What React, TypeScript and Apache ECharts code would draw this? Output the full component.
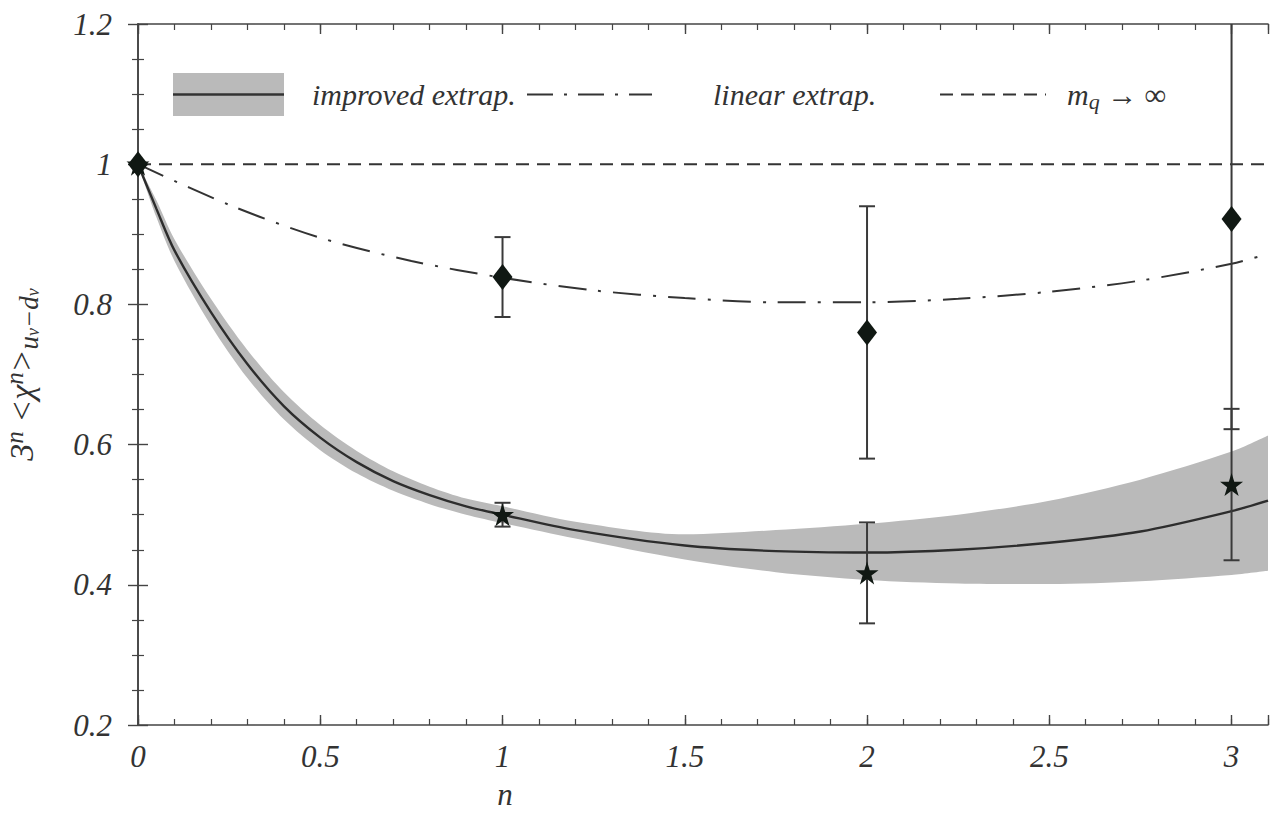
import React, { useEffect, useRef } from "react";
import * as echarts from "echarts";

// ---------- data ----------
const xMin = 0;
const xMax = 3.1;
const yMin = 0.2;
const yMax = 1.2;

// improved extrapolation (solid curve) and its uncertainty band
const improvedN = [0, 0.05, 0.1, 0.2, 0.3, 0.4, 0.5, 0.6, 0.7, 0.8, 0.9, 1.0, 1.2, 1.5, 1.75, 2.0, 2.25, 2.5, 2.75, 3.0, 3.1];
const improvedV = [1.0, 0.937, 0.877, 0.789, 0.715, 0.655, 0.61, 0.575, 0.548, 0.528, 0.512, 0.5, 0.478, 0.456, 0.448, 0.446, 0.45, 0.46, 0.476, 0.505, 0.52];
const bandLower = [1.0, 0.925, 0.862, 0.77, 0.695, 0.636, 0.592, 0.559, 0.534, 0.515, 0.5, 0.488, 0.466, 0.436, 0.418, 0.407, 0.402, 0.401, 0.405, 0.414, 0.42];
const bandUpper = [1.0, 0.949, 0.893, 0.808, 0.735, 0.675, 0.628, 0.591, 0.562, 0.54, 0.523, 0.512, 0.49, 0.472, 0.478, 0.487, 0.5, 0.52, 0.55, 0.59, 0.613];

// linear extrapolation (dash-dot curve)
const linearN = [0, 0.25, 0.5, 0.75, 1.0, 1.25, 1.5, 1.75, 2.0, 2.25, 2.5, 2.75, 3.0, 3.1];
const linearV = [1.0, 0.942, 0.895, 0.862, 0.838, 0.82, 0.809, 0.803, 0.803, 0.808, 0.818, 0.834, 0.858, 0.872];

// m_q -> infinity (dashed)
const heavyQuarkN = [0, 3.1];
const heavyQuarkV = [1, 1];

// lattice points: diamonds (linear extrap.), stars (improved extrap.)
const diamondN = [0, 1, 2, 3];
const diamondV = [1.0, 0.839, 0.76, 0.922];
const diamondErr = [0, 0.057, 0.18, 0.3];

const starN = [0, 1, 2, 3];
const starV = [1.0, 0.5, 0.417, 0.543];
const starErr = [0, 0.017, 0.072, 0.108];

const legendLabels = ["improved extrap.", "linear extrap."];
const xTitle = "n";

// ---------- styles ----------
const FONT = "Liberation Serif";
const INK = "#333333";
const MARK = "#101813";
const BAND = "#bababa";
const STAR_PATH =
  "path://M0,-10L2.25,-3.09L9.51,-3.09L3.63,1.18L5.88,8.09L0,3.82L-5.88,8.09L-3.63,1.18L-9.51,-3.09L-2.25,-3.09Z";

const zip = (a: number[], b: number[]) => a.map((v, i) => [v, b[i]]);

function errorBarSeries(ns: number[], vs: number[], es: number[]) {
  return {
    type: "custom",
    clip: true,
    z: 6,
    data: ns.map((n, i) => [n, vs[i] - es[i], vs[i] + es[i], es[i]]),
    renderItem: (params: any, api: any) => {
      const err = api.value(3);
      if (!err) return null;
      const lo = api.coord([api.value(0), api.value(1)]);
      const hi = api.coord([api.value(0), api.value(2)]);
      const w = 8;
      const st = { stroke: "#3a3a3a", lineWidth: 2 };
      return {
        type: "group",
        children: [
          { type: "line", shape: { x1: lo[0], y1: lo[1], x2: hi[0], y2: hi[1] }, style: st },
          { type: "line", shape: { x1: lo[0] - w, y1: lo[1], x2: lo[0] + w, y2: lo[1] }, style: st },
          { type: "line", shape: { x1: hi[0] - w, y1: hi[1], x2: hi[0] + w, y2: hi[1] }, style: st },
        ],
      };
    },
  };
}

export default function App() {
  const ref = useRef<HTMLDivElement>(null);

  useEffect(() => {
    if (!ref.current) return;
    const chart = echarts.init(ref.current, null, { renderer: "svg" });

    const labelStyle = {
      fontFamily: FONT,
      fontStyle: "italic",
      fontSize: 31,
      color: INK,
    };
    const axisLine = { show: true, lineStyle: { color: "#444", width: 1.6 } };

    const majorX = (position: string, showLabel: boolean) => ({
      type: "value",
      position,
      min: xMin,
      max: xMax,
      interval: 0.5,
      z: 5,
      axisLine,
      axisTick: { show: true, inside: true, length: 10, lineStyle: { color: "#444", width: 1.4 } },
      axisLabel: {
        show: showLabel,
        margin: 16,
        ...labelStyle,
        formatter: (v: number) => (Math.abs(v * 2 - Math.round(v * 2)) < 1e-6 ? String(v) : ""),
      },
      splitLine: { show: false },
    });
    const minorX = (position: string) => ({
      type: "value",
      position,
      min: xMin,
      max: xMax,
      interval: 0.1,
      z: 5,
      axisLine: { show: false },
      axisTick: { show: true, inside: true, length: 6, lineStyle: { color: "#444", width: 1.2 } },
      axisLabel: { show: false },
      splitLine: { show: false },
    });
    const yAx = (position: string, showLabel: boolean) => ({
      type: "value",
      position,
      min: yMin,
      max: yMax,
      interval: 0.2,
      z: 5,
      axisLine,
      axisTick: { show: true, inside: true, length: 10, lineStyle: { color: "#444", width: 1.4 } },
      minorTick: { show: true, splitNumber: 4, length: 6, lineStyle: { color: "#444", width: 1.2 } },
      axisLabel: { show: showLabel, margin: 26, ...labelStyle },
      splitLine: { show: false },
      minorSplitLine: { show: false },
      name: showLabel ? "3{sup|n} <χ{sup|n}>{sub|u}{ss|ν}{sub|−d}{ss|ν}" : "",
      nameLocation: "middle",
      nameGap: 96,
      nameTextStyle: {
        ...labelStyle,
        fontSize: 34,
        rich: {
          sup: { fontFamily: FONT, fontStyle: "italic", fontSize: 25, color: INK, padding: [0, 0, 14, 0] },
          sub: { fontFamily: FONT, fontStyle: "italic", fontSize: 27, color: INK, padding: [14, 0, 0, 0] },
          ss: { fontFamily: FONT, fontStyle: "italic", fontSize: 18, color: INK, padding: [22, 0, 0, 0] },
        },
      },
    });

    const legendY = 94.5;
    const option: any = {
      animation: false,
      backgroundColor: "#ffffff",
      grid: { left: 138, right: 12, top: 24, bottom: 91, containLabel: false, outerBoundsMode: "none" },
      xAxis: [majorX("bottom", true), minorX("bottom"), majorX("top", false), minorX("top")],
      yAxis: [yAx("left", true), yAx("right", false)],
      graphic: [
        { type: "rect", shape: { x: 173, y: 73, width: 111, height: 43 }, style: { fill: BAND }, z: 10 },
        { type: "line", shape: { x1: 173, y1: legendY, x2: 284, y2: legendY }, style: { stroke: INK, lineWidth: 2.5 }, z: 11 },
        {
          type: "text", x: 312, y: legendY, z: 11,
          style: { text: legendLabels[0], font: `italic 30px "${FONT}"`, fill: INK, verticalAlign: "middle" },
        },
        {
          type: "line", z: 11,
          shape: { x1: 527, y1: legendY, x2: 652, y2: legendY },
          style: { stroke: INK, lineWidth: 2, lineDash: [26, 11, 3, 11] },
        },
        {
          type: "text", x: 713, y: legendY, z: 11,
          style: { text: legendLabels[1], font: `italic 30px "${FONT}"`, fill: INK, verticalAlign: "middle" },
        },
        {
          type: "line", z: 11,
          shape: { x1: 940, y1: legendY, x2: 1046, y2: legendY },
          style: { stroke: INK, lineWidth: 2, lineDash: [13, 8] },
        },
        {
          type: "text", x: 1067, y: legendY, z: 11,
          style: {
            text: "m{q|q} → ∞",
            font: `italic 30px "${FONT}"`,
            fill: INK,
            verticalAlign: "middle",
            rich: {
              q: { fontFamily: FONT, fontStyle: "italic", fontSize: 22, fill: INK, padding: [14, 0, 0, 0] },
            },
          },
        },
        {
          type: "text", x: 505, y: 794, z: 11,
          style: { text: xTitle, font: `italic 31px "${FONT}"`, fill: INK, align: "center", verticalAlign: "middle" },
        },
      ],
      series: [
        {
          type: "line",
          name: "band-upper",
          data: zip(improvedN, bandUpper),
          smooth: 0.3,
          symbol: "none",
          lineStyle: { width: 0 },
          areaStyle: { color: BAND, opacity: 1, origin: "start" },
          z: 1,
        },
        {
          type: "line",
          name: "band-lower",
          data: zip(improvedN, bandLower),
          smooth: 0.3,
          symbol: "none",
          lineStyle: { width: 0 },
          areaStyle: { color: "#ffffff", opacity: 1, origin: "start" },
          z: 2,
        },
        {
          type: "line",
          name: "improved",
          data: zip(improvedN, improvedV),
          smooth: 0.3,
          symbol: "none",
          lineStyle: { color: "#2d2d2d", width: 2.4 },
          z: 3,
        },
        {
          type: "line",
          name: "linear",
          data: zip(linearN, linearV),
          smooth: 0.3,
          symbol: "none",
          lineStyle: { color: INK, width: 2, type: [28, 12, 3, 12] },
          z: 3,
        },
        {
          type: "line",
          name: "heavy",
          data: zip(heavyQuarkN, heavyQuarkV),
          symbol: "none",
          lineStyle: { color: INK, width: 2, type: [13, 8] },
          z: 3,
        },
        errorBarSeries(diamondN, diamondV, diamondErr),
        errorBarSeries(starN, starV, starErr),
        {
          type: "scatter",
          data: zip(diamondN, diamondV),
          symbol: "diamond",
          symbolSize: [20, 26],
          itemStyle: { color: MARK, opacity: 1 },
          z: 7,
        },
        {
          type: "scatter",
          data: zip(starN, starV),
          symbol: STAR_PATH,
          symbolSize: 23,
          itemStyle: { color: MARK, opacity: 1 },
          z: 7,
        },
      ],
    };

    chart.setOption(option);
    return () => chart.dispose();
  }, []);

  return (
    <div
      ref={ref}
      style={{ position: "fixed", left: 0, top: 0, width: 1280, height: 816, background: "#fff" }}
    />
  );
}
